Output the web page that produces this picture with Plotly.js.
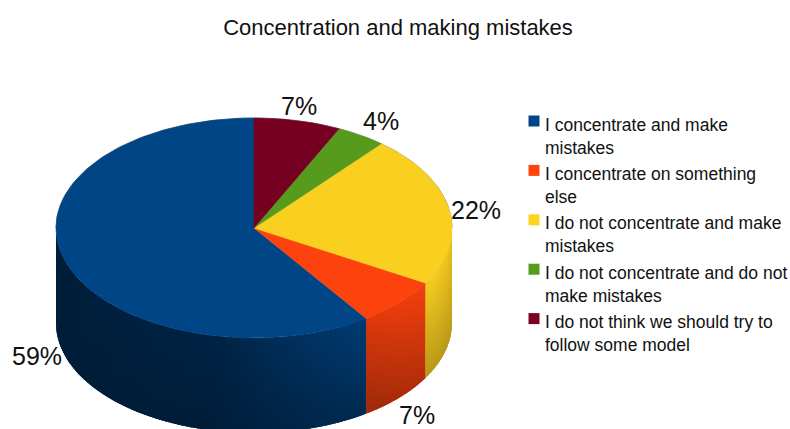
<!DOCTYPE html>
<html>
<head>
<meta charset="utf-8">
<script src="https://cdn.plot.ly/plotly-3.0.1.min.js"></script>
<style>html,body{margin:0;padding:0;background:#fff}</style>
</head>
<body>
<div id="chart" style="width:790px;height:429px"></div>
<script>
// Survey answers and their shares, in percent
const categories = [
  ["I concentrate and make", "mistakes"],
  ["I concentrate on something", "else"],
  ["I do not concentrate and make", "mistakes"],
  ["I do not concentrate and do not", "make mistakes"],
  ["I do not think we should try to", "follow some model"]
];
const shares = [59, 7, 22, 4, 7];
const sliceColors = ["#004586", "#ff420e", "#ffd320", "#579d1c", "#7e0021"];
const faceColors = ["#004585", "#fc430e", "#f9cf20", "#569b1c", "#760021"];

// Pie geometry on a pixel-scaled pair of hidden axes
const FONT = "Liberation Sans, Arial, sans-serif";
const cx = 254, cy = 228, rx = 198, ry = 110, depth = 95;
const rad = d => d * Math.PI / 180;
const px = t => cx + rx * Math.sin(rad(t));
const py = t => cy - ry * Math.cos(rad(t));

// Side-wall lighting: [horizontal position across the pie, top level, bottom level]
const lighting = [[0, .43, .42], [.4, .5, .42], [.77, .86, .6], [.95, .97, .72], [1, .95, .72]];
function lightAt(f) {
  for (let i = 1; i < lighting.length; i++) {
    if (f <= lighting[i][0]) {
      const a = lighting[i - 1], b = lighting[i], u = (f - a[0]) / (b[0] - a[0]);
      return [a[1] + (b[1] - a[1]) * u, a[2] + (b[2] - a[2]) * u];
    }
  }
  return lighting[lighting.length - 1].slice(1);
}
function shade(hex, m) {
  const n = parseInt(hex.slice(1), 16);
  return `rgb(${[n >> 16, (n >> 8) & 255, n & 255].map(c => Math.round(c * m)).join(",")})`;
}

// Slices run counter-clockwise from twelve o'clock; angles here are clockwise from the top
const total = shares.reduce((a, b) => a + b, 0);
let edge = 360;
const spans = shares.map(v => {
  const end = edge, start = edge - v / total * 360;
  edge = start;
  return [start, end];
});

const traces = [];
const STEP = 1;

// Outer wall of one slice between two angles, as an outline going along the top then back along the bottom
function wallOutline(from, to, n) {
  const xs = [], ys = [];
  for (let k = 0; k <= n; k++) {
    const s = from + (to - from) * k / n;
    xs.push(px(s)); ys.push(py(s));
  }
  for (let k = n; k >= 0; k--) {
    const s = from + (to - from) * k / n;
    xs.push(px(s)); ys.push(py(s) + depth);
  }
  return [xs, ys];
}

spans.forEach(([a, b], i) => {
  const lo = Math.max(a, 90), hi = Math.min(b, 270);
  if (hi <= lo) return;

  // Solid backing so the narrow strips near the silhouette leave no seams
  const [bx, by] = wallOutline(lo, hi, 60);
  traces.push({
    type: "scatter", mode: "lines", x: bx, y: by, fill: "toself",
    fillcolor: shade(sliceColors[i], lightAt((px(hi) - (cx - rx)) / (2 * rx))[1]),
    line: { width: 0 }, hoverinfo: "skip", showlegend: false
  });

  // Narrow upright strips, each lit by where it sits across the pie
  const count = Math.ceil((hi - lo) / STEP);
  for (let c = 0; c < count; c++) {
    const t = lo + (hi - lo) * c / count;
    const t1 = Math.min(lo + (hi - lo) * (c + 1) / count + .5, hi);
    const [xs, ys] = wallOutline(t, t1, 2);
    const [top, bottom] = lightAt((px((t + t1) / 2) - (cx - rx)) / (2 * rx));
    traces.push({
      type: "scatter", mode: "lines", x: xs, y: ys, fill: "toself",
      line: { width: 0 }, hoverinfo: "skip", showlegend: false,
      fillgradient: {
        type: "vertical", start: Math.min(...ys), stop: Math.max(...ys),
        colorscale: [[0, shade(sliceColors[i], top)], [1, shade(sliceColors[i], bottom)]]
      }
    });
  }
});

// Thin dark rim along the far edge of the disc
const rimAngles = Array.from({ length: 91 }, (_, k) => 270 + k * 2);
traces.push({
  type: "scatter", mode: "lines", hoverinfo: "skip", showlegend: false,
  x: rimAngles.map(px), y: rimAngles.map(py),
  line: { width: 1, color: "rgba(0,0,0,.45)" }
});

// Top faces
spans.forEach(([a, b], i) => {
  const xs = [cx], ys = [cy];
  const n = Math.max(2, Math.ceil((b - a) / 1.5));
  for (let k = 0; k <= n; k++) {
    const t = a + (b - a) * k / n;
    xs.push(px(t)); ys.push(py(t));
  }
  xs.push(cx); ys.push(cy);
  traces.push({
    type: "scatter", mode: "lines", x: xs, y: ys, fill: "toself", fillcolor: faceColors[i],
    line: { width: .5, color: faceColors[i] }, hoverinfo: "text", text: `${shares[i]}%`,
    showlegend: false
  });
});

// Key: colour squares, with the wrapped captions written as annotations
const keyTop = 121, keyPitch = 49.4, keyX = 534, captionX = 543;
traces.push({
  type: "scatter", mode: "markers", hoverinfo: "skip", showlegend: false,
  x: categories.map(() => keyX),
  y: categories.map((_, i) => keyTop + keyPitch * i),
  marker: { symbol: "square", size: 11, color: sliceColors, line: { width: 0 } }
});

const annotations = [];
categories.forEach((lines, i) => {
  lines.forEach((line, j) => {
    annotations.push({
      xref: "x", yref: "y", x: captionX, y: keyTop + keyPitch * i + 3.5 + j * 23,
      text: line, showarrow: false, xanchor: "left", yanchor: "middle",
      font: { family: FONT, size: 17.5, color: "#111" }
    });
  });
});

// Share labels sit just outside the rim of their slices
const labelSpots = [[37, 356], [417, 415], [476, 210], [381, 120.5], [299, 105.5]];
shares.forEach((v, i) => {
  annotations.push({
    xref: "x", yref: "y", x: labelSpots[i][0], y: labelSpots[i][1],
    text: `${v}%`, showarrow: false, xanchor: "center", yanchor: "middle",
    font: { family: FONT, size: 25, color: "#111" }
  });
});

const hidden = { visible: false, fixedrange: true, showgrid: false, zeroline: false };
Plotly.newPlot("chart", traces, {
  width: 790, height: 429,
  margin: { l: 0, r: 0, t: 0, b: 0 },
  paper_bgcolor: "#fff", plot_bgcolor: "#fff",
  showlegend: false,
  title: {
    text: "Concentration and making mistakes",
    x: 398 / 790, xanchor: "center", y: 1 - 27 / 429, yanchor: "middle",
    font: { family: FONT, size: 22, color: "#111" }
  },
  xaxis: { ...hidden, range: [0, 790] },
  yaxis: { ...hidden, range: [429, 0] },
  annotations
}, { staticPlot: true, displayModeBar: false });
</script>
</body>
</html>
